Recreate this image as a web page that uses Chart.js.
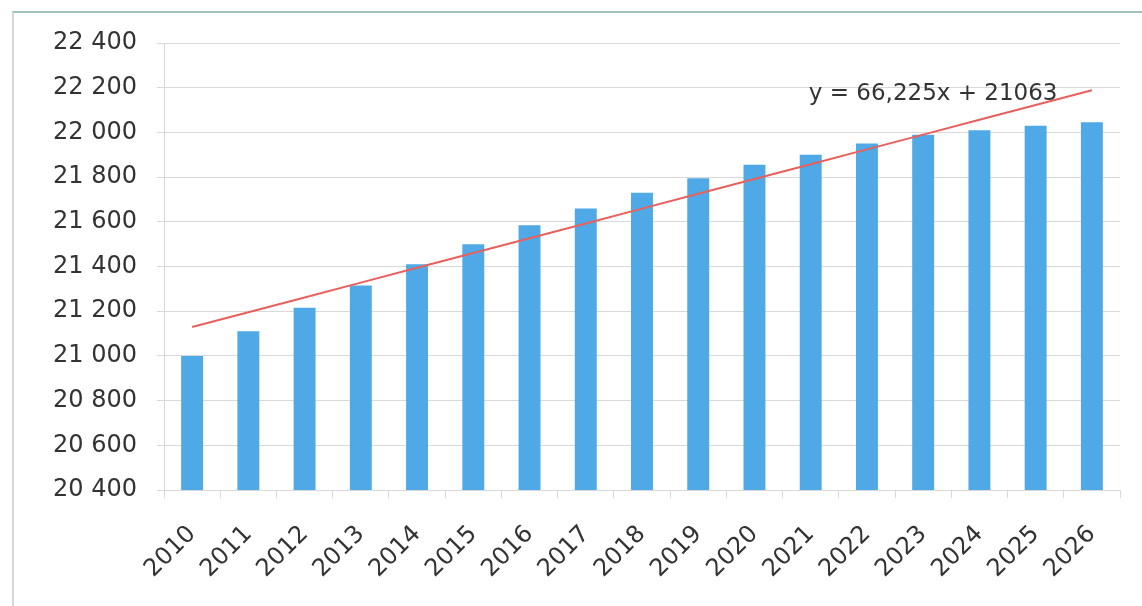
<!DOCTYPE html>
<html>
<head>
<meta charset="utf-8">
<script src="https://cdn.jsdelivr.net/npm/chart.js@4.4.1/dist/chart.umd.min.js"></script>
<style>
  html, body { margin: 0; padding: 0; background: #fff; }
  #wrap { position: relative; width: 1142px; height: 606px; overflow: hidden; }
  #frame {
    position: absolute; left: 12px; top: 11px; width: 1140px; height: 600px;
    border-top: 2px solid #a3c2bb; border-left: 2px solid #d6d6d6;
    box-sizing: border-box;
  }
  canvas { position: absolute; left: 0; top: 0; }
</style>
</head>
<body>
<div id="wrap">
  <div id="frame"></div>
  <canvas id="c" width="1142" height="606"></canvas>
</div>
<script>
// Years on the category axis
const years = ['2010','2011','2012','2013','2014','2015','2016','2017','2018',
               '2019','2020','2021','2022','2023','2024','2025','2026'];

// Yearly values shown as bars
const values = [21000, 21110, 21215, 21315, 21410, 21500, 21585, 21660, 21730,
                21795, 21855, 21900, 21950, 21990, 22010, 22030, 22045];

// Linear trend y = slope * x + intercept, x = 1 for the first year
const trendSlope = 66.225;
const trendIntercept = 21063;
const trendValues = years.map((_, i) => trendSlope * (i + 1) + trendIntercept);
const trendLabel = 'y = 66,225x + 21063';

// Value axis range and step
const yMin = 20400;
const yMax = 22400;
const yStep = 200;

const textColor = '#333333';
const gridColor = '#d9d9d9';
const fontFamily = '"DejaVu Sans", sans-serif';

const equationPlugin = {
  id: 'equationLabel',
  afterDatasetsDraw(chart) {
    const { ctx, scales } = chart;
    const x = scales.x.getPixelForValue(13) + 10;
    const y = scales.y.getPixelForValue(22170);
    ctx.save();
    ctx.font = '23px ' + fontFamily;
    ctx.fillStyle = textColor;
    ctx.textAlign = 'center';
    ctx.textBaseline = 'middle';
    ctx.fillText(trendLabel, x, y);
    ctx.restore();
  }
};

new Chart(document.getElementById('c'), {
  data: {
    labels: years,
    datasets: [
      {
        type: 'line',
        data: trendValues,
        borderColor: '#e8605c',
        borderWidth: 2,
        pointRadius: 0,
        fill: false,
        order: 0
      },
      {
        type: 'bar',
        data: values,
        backgroundColor: '#4ea9e6',
        barPercentage: 0.39,
        categoryPercentage: 1.0,
        order: 1
      }
    ]
  },
  options: {
    responsive: false,
    animation: false,
    layout: { padding: { left: 20, top: 43, right: 22, bottom: 0 } },
    plugins: { legend: { display: false }, tooltip: { enabled: false } },
    scales: {
      x: {
        offset: true,
        grid: {
          offset: true,
          drawOnChartArea: false,
          drawTicks: true,
          tickLength: 8,
          color: gridColor
        },
        border: { color: gridColor, width: 1 },
        ticks: {
          color: textColor,
          font: { family: fontFamily, size: 24 },
          minRotation: 45,
          maxRotation: 45,
          autoSkip: false,
          padding: 22
        },
        afterFit(scale) { scale.height = 116; }
      },
      y: {
        min: yMin,
        max: yMax,
        grid: { color: gridColor, tickLength: 7, drawTicks: true },
        border: { color: gridColor, width: 1 },
        ticks: {
          stepSize: yStep,
          color: textColor,
          font: { family: fontFamily, size: 24 },
          padding: 20,
          callback(v) {
            const s = String(v);
            return s.slice(0, s.length - 3) + ' ' + s.slice(-3);
          }
        },
        afterFit(scale) { scale.width = 144; }
      }
    }
  },
  plugins: [equationPlugin]
});
</script>
</body>
</html>
